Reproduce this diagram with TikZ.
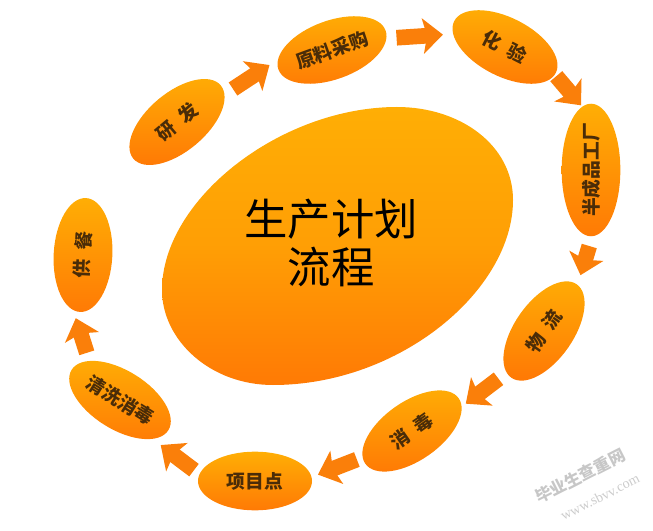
\documentclass[tikz,border=0pt]{standalone}
\usepackage{fontspec}
\newfontfamily\cjk{Noto Sans CJK SC}
\usetikzlibrary{shapes.geometric,arrows.meta}
\tikzset{
    etapa/.style={ellipse,inner sep=0pt,minimum width=3.42cm,minimum height=1.76cm,
        top color=natop,bottom color=nabajo,text=tinta,font=\cjk\bfseries\fontsize{16}{18}\selectfont},
    flecha/.style={draw=naflecha,line width=0.47cm,shorten <=0.3cm,shorten >=0.3cm,
        -{Stealth[length=0.6cm,width=1.05cm,inset=0.12cm]}},
}
\begin{document}
\begin{tikzpicture}[x=0.03cm,y=0.03cm]
        %colores
        \definecolor{natop}{HTML}{FFAE05}
        \definecolor{nabajo}{HTML}{FF7A05}
        \definecolor{naflecha}{HTML}{FA7F0A}
        \definecolor{tinta}{HTML}{4A2C08}
        \useasboundingbox (0,0) rectangle (653,530);

        %centro
        \shade[top color=natop,bottom color=nabajo,middle color=natop!70!nabajo]
            (397,423) .. controls (460,423) and (513,385) .. (513,330)
            .. controls (513,240) and (400,145) .. (273,145)
            .. controls (210,145) and (162,190) .. (162,240)
            .. controls (162,330) and (280,423) .. (397,423) -- cycle;
        \node[align=center,font=\cjk\fontsize{37}{41}\selectfont] (plan) at (331,287) {生产计划\\流程};

        %etapas
        \foreach \nombre/\x/\y/\ang/\txt in {yanfa/177/408/40/研\hspace{8pt}发,
            yuanliao/332/480/20/原料采购,
            huayan/505/483/-27/化\hspace{8pt}验,
            bancheng/591/360/90/半成品工厂,
            wuliu/544/199/55/物\hspace{8pt}流,
            xiaodu/412/99/35/消\hspace{8pt}毒,
            xiangmu/255/49/0/项目点,
            qingxi/120/130/-32/清洗消毒,
            gongcan/83/275/87/供\hspace{8pt}餐}
        \node[etapa,rotate=\ang] (\nombre) at (\x,\y) {\txt};

        %flechas
        \draw[flecha] (yanfa.-10) -- (yuanliao.170);
        \draw[flecha] (yuanliao.-8) -- (huayan.193);
        \draw[flecha,shorten <=0.06cm,shorten >=0.05cm] (huayan.-2) -- (bancheng.8);
        \draw[flecha] (bancheng.181) -- (wuliu.-1);
        \draw[flecha,shorten >=0.15cm] (wuliu.173) -- (xiaodu.-9);
        \draw[flecha,shorten <=0.18cm,shorten >=0.2cm] (xiaodu.173) -- (xiangmu.4);
        \draw[flecha,shorten <=0.2cm] (xiangmu.173) -- (qingxi.-18);
        \draw[flecha,shorten <=0.25cm,shorten >=0.25cm] (qingxi.160) -- (gongcan.173);

        %marca de agua
        \node[rotate=27,text=black!22,font=\cjk\bfseries\fontsize{14}{16}\selectfont] (marca) at (580,54) {毕业生查重网};
        \node[rotate=27,text=black!20,font=\fontspec{Liberation Serif}\fontsize{12}{13}\selectfont] (web) at (600,33) {www.sbvv.com};
    \end{tikzpicture}
\end{document}
